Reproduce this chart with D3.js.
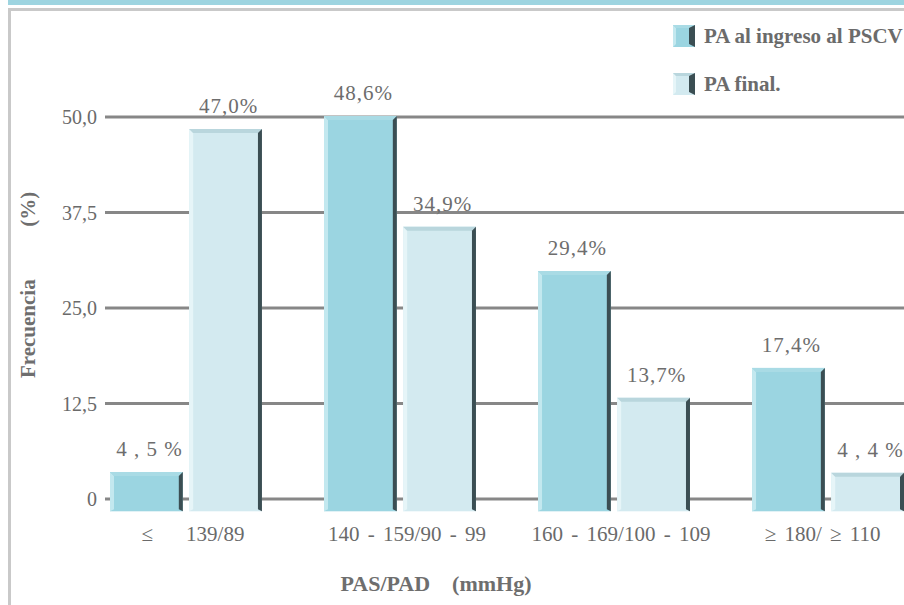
<!DOCTYPE html>
<html>
<head>
<meta charset="utf-8">
<script src="https://cdn.jsdelivr.net/npm/d3@7"></script>
<style>
  html, body { margin: 0; padding: 0; background: #fff; }
  svg { display: block; }
  text { font-family: "Liberation Serif", "Times New Roman", serif; white-space: pre; }
</style>
</head>
<body>
<svg id="chart" width="904" height="605"></svg>
<script>
// Blood-pressure distribution at admission vs. at the end of the programme
const categories = ["≤    139/89", "140 - 159/90 - 99", "160 - 169/100 - 109", "≥ 180/ ≥ 110   "];
const seriesNames = ["PA al ingreso al PSCV", "PA final."];
const ingreso = [4.5, 48.6, 29.4, 17.4];
const final = [47.0, 34.9, 13.7, 4.4];
const ingresoLabels = ["4 , 5 %", "48,6%", "29,4%", "17,4%"];
const finalLabels = ["47,0%", "34,9%", "13,7%", "4 , 4 %"];
const yTicks = [0, 12.5, 25, 37.5, 50];
const yTickLabels = ["0", "12,5", "25,0", "37,5", "50,0"];

const W = 904, H = 605;
const svg = d3.select("#chart");

const palette = [
  { fill: "#9bd5e1", left: "#c3e8ef", top: "#a9dbe5", right: "#3b4e53" },
  { fill: "#d3eaf0", left: "#e6f5f8", top: "#b9d6dd", right: "#3b4e53" }
];

// frame
svg.append("rect").attr("x", 8).attr("y", 0).attr("width", W - 8).attr("height", 5).attr("fill", "#9dd4e0");
svg.append("rect").attr("x", 8).attr("y", 8).attr("width", W - 8).attr("height", 3).attr("fill", "#c9c9c9");
svg.append("rect").attr("x", 8).attr("y", 8).attr("width", 3).attr("height", H - 8).attr("fill", "#c9c9c9");

// back-wall value scale (gridlines) and front scale (bars)
const yGrid = d3.scaleLinear().domain([0, 50]).range([499, 117]);
const yBar = d3.scaleLinear().domain([0, 50]).range([508.3, 104.8]);

const x0 = d3.scaleBand().domain(categories).range([110, 904]).paddingInner(0.29).paddingOuter(0);
const x1 = d3.scaleBand().domain([0, 1]).range([0, x0.bandwidth()]).paddingInner(0.08);

// gridlines
svg.append("g").selectAll("line").data(yTicks).join("line")
  .attr("x1", 105).attr("x2", W)
  .attr("y1", d => yGrid(d)).attr("y2", d => yGrid(d))
  .attr("stroke", "#878787").attr("stroke-width", 3);

// tick labels
svg.append("g").selectAll("text").data(yTicks).join("text")
  .attr("x", 97).attr("y", d => yGrid(d))
  .attr("dy", "0.35em")
  .attr("text-anchor", "end")
  .attr("font-size", 20).attr("fill", "#6a6a6a")
  .text((d, i) => yTickLabels[i]);

// bars with bevelled edges
const rows = [];
categories.forEach((c, i) => {
  rows.push({ cat: c, s: 0, v: ingreso[i], label: ingresoLabels[i] });
  rows.push({ cat: c, s: 1, v: final[i], label: finalLabels[i] });
});

const b = 4;
const baseY = yBar(0) + 3;
const barG = svg.append("g").selectAll("g").data(rows).join("g");
barG.each(function (d) {
  const g = d3.select(this);
  const xa = x0(d.cat) + x1(d.s);
  const xb = xa + x1.bandwidth();
  const yt = yBar(d.v);
  const yb = baseY;
  const p = palette[d.s];
  g.append("rect").attr("x", xa).attr("y", yt).attr("width", xb - xa).attr("height", yb - yt).attr("fill", p.fill);
  g.append("polygon").attr("fill", p.left)
    .attr("points", [[xa, yt], [xa + b, yt + b], [xa + b, yb - 2], [xa, yb]].join(" "));
  g.append("polygon").attr("fill", p.top)
    .attr("points", [[xa, yt], [xb, yt], [xb - b, yt + b], [xa + b, yt + b]].join(" "));
  g.append("polygon").attr("fill", p.right)
    .attr("points", [[xb, yt], [xb, yb], [xb - b, yb - 2], [xb - b, yt + b]].join(" "));
  g.append("text")
    .attr("x", (xa + xb) / 2 + 3).attr("y", yt - 16)
    .attr("text-anchor", "middle")
    .attr("font-size", 21).attr("letter-spacing", 1).attr("fill", "#6d6d6d")
    .text(d.label);
});

// category labels
svg.append("g").selectAll("text").data(categories).join("text")
  .attr("x", d => x0(d) + x0.bandwidth() / 2 + 7)
  .attr("y", 541)
  .attr("text-anchor", "middle")
  .attr("font-size", 21).attr("word-spacing", 3).attr("fill", "#6a6a6a")
  .text(d => d);

// axis titles
svg.append("text")
  .attr("transform", "translate(35,285) rotate(-90)")
  .attr("text-anchor", "middle")
  .attr("font-size", 21).attr("font-weight", "bold").attr("fill", "#6e6e6e")
  .text("Frecuencia          (%)");

svg.append("text")
  .attr("x", 436).attr("y", 591)
  .attr("text-anchor", "middle")
  .attr("font-size", 22).attr("font-weight", "bold").attr("fill", "#6e6e6e")
  .text("PAS/PAD    (mmHg)");

// legend
const legend = svg.append("g").selectAll("g").data(seriesNames).join("g")
  .attr("transform", (d, i) => `translate(673,${25 + i * 48})`);
legend.each(function (d, i) {
  const g = d3.select(this);
  const p = palette[i];
  const s = 22, e = 3;
  g.append("rect").attr("width", s).attr("height", s).attr("fill", p.fill);
  g.append("polygon").attr("fill", p.left).attr("points", [[0, 0], [e, e], [e, s - e], [0, s]].join(" "));
  g.append("polygon").attr("fill", p.top).attr("points", [[0, 0], [s, 0], [s - e, e], [e, e]].join(" "));
  g.append("polygon").attr("fill", p.right).attr("points", [[s, 0], [s, s], [s - 6, s - e], [s - 6, e]].join(" "));
  g.append("text").attr("x", 31).attr("y", 11).attr("dy", "0.35em")
    .attr("font-size", 21).attr("font-weight", "bold").attr("fill", "#6b6b6b")
    .text(d);
});
</script>
</body>
</html>
